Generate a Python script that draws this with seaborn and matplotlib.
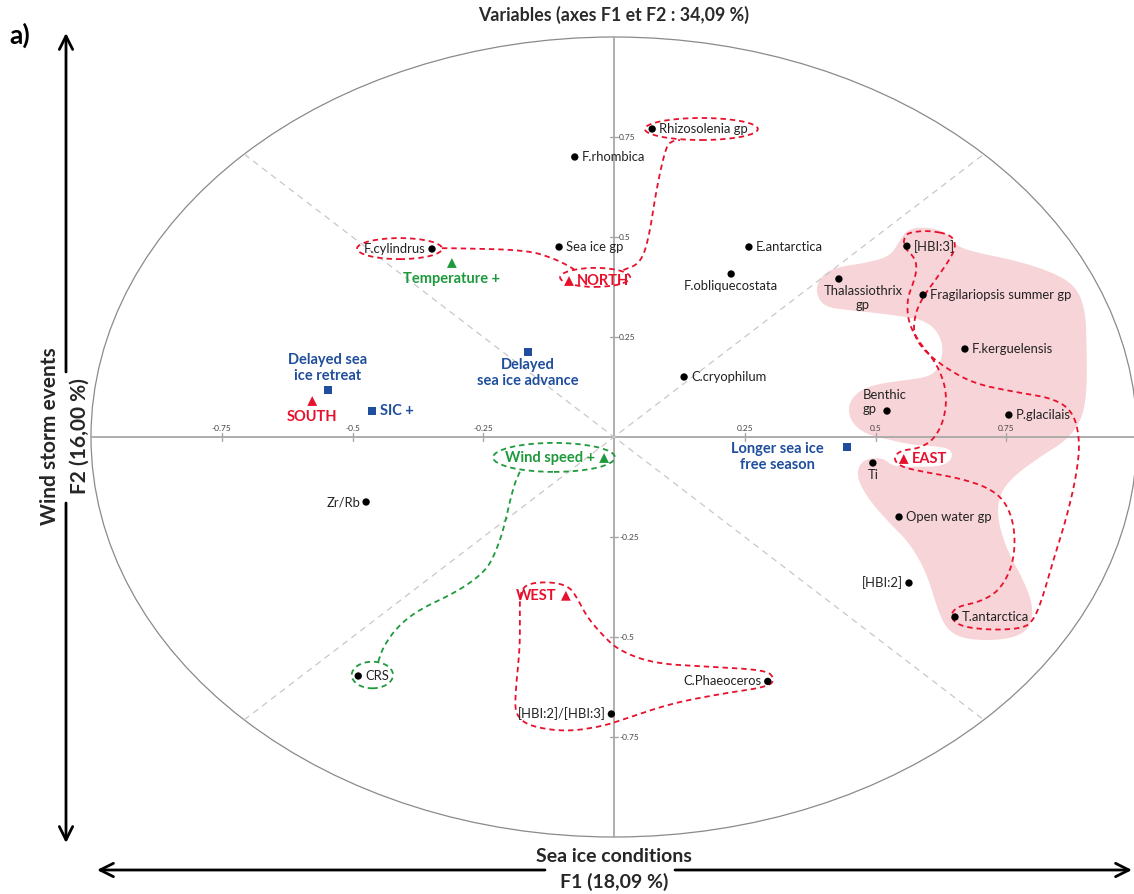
import numpy as np
import pandas as pd
import matplotlib
matplotlib.use("Agg")
import matplotlib.pyplot as plt
from matplotlib.patches import Circle, Ellipse, Polygon
import seaborn as sns

# --- variables (F1, F2 loadings) ---
names = ["Rhizosolenia gp", "F.rhombica", "Sea ice gp", "F.cylindrus", "E.antarctica",
         "F.obliquecostata", "C.cryophilum", "[HBI:3]", "Thalassiothrix\ngp",
         "Fragilariopsis summer gp", "F.kerguelensis", "Benthic\ngp", "P.glacilais",
         "Ti", "Open water gp", "[HBI:2]", "T.antarctica", "Zr/Rb", "CRS",
         "[HBI:2]/[HBI:3]", "C.Phaeoceros"]
f1 = [0.073, -0.075, -0.105, -0.348, 0.258, 0.224, 0.134, 0.560, 0.430, 0.591, 0.671,
      0.522, 0.755, 0.495, 0.545, 0.564, 0.652, -0.474, -0.489, -0.005, 0.294]
f2 = [0.770, 0.700, 0.475, 0.470, 0.475, 0.4075, 0.150, 0.477, 0.395, 0.355, 0.220,
      0.065, 0.055, -0.065, -0.200, -0.365, -0.450, -0.1625, -0.5975, -0.6925, -0.611]
label_pos = ["right", "right", "right", "left", "right", "below", "right", "right", "thal",
             "right", "right", "benthic", "right", "below", "right", "left", "right",
             "left", "right", "left", "left"]

# --- supplementary: regions (red), climate (green), sea ice (blue) ---
sup_names = ["NORTH", "SOUTH", "WEST", "EAST", "Temperature +", "Wind speed +",
             "Delayed sea\nice retreat", "SIC +", "Delayed\nsea ice advance",
             "Longer sea ice\nfree season"]
sup_f1 = [-0.086, -0.577, -0.092, 0.554, -0.310, -0.019, -0.547, -0.463, -0.164, 0.445]
sup_f2 = [0.390, 0.090, -0.397, -0.055, 0.435, -0.0525, 0.1175, 0.065, 0.2125, -0.025]
sup_kind = ["region", "region", "region", "region", "climate", "climate",
            "ice", "ice", "ice", "ice"]
sup_pos = ["right", "below", "left", "right", "below", "left", "above", "right",
           "below", "longer"]

tick_vals = [-0.75, -0.5, -0.25, 0.25, 0.5, 0.75]

# pink group outline (east cluster)
blob_x = [0.384, 0.400, 0.432, 0.477, 0.528, 0.547, 0.560, 0.591, 0.636, 0.655, 0.700,
          0.763, 0.827, 0.878, 0.901, 0.904, 0.904, 0.894, 0.866, 0.815, 0.763, 0.738,
          0.732, 0.751, 0.783, 0.802, 0.795, 0.751, 0.674, 0.636, 0.617, 0.598, 0.566,
          0.521, 0.483, 0.464, 0.470, 0.489, 0.515, 0.534, 0.572, 0.623, 0.646, 0.646,
          0.623, 0.572, 0.528, 0.477, 0.451, 0.448, 0.470, 0.509, 0.560, 0.604, 0.623,
          0.630, 0.617, 0.591, 0.553, 0.509, 0.445, 0.400]
blob_y = [0.3675, 0.409, 0.426, 0.434, 0.451, 0.4925, 0.5175, 0.526, 0.513, 0.476, 0.459,
          0.4425, 0.4175, 0.384, 0.326, 0.2175, 0.109, 0.0425, -0.0075, -0.049, -0.099,
          -0.141, -0.199, -0.2825, -0.3575, -0.424, -0.4825, -0.5075, -0.5075, -0.4825,
          -0.424, -0.341, -0.266, -0.2075, -0.149, -0.099, -0.066, -0.053, -0.053, -0.074,
          -0.074, -0.074, -0.0575, -0.0325, -0.024, -0.020, -0.0075, 0.009, 0.0425, 0.084,
          0.1175, 0.134, 0.1425, 0.151, 0.176, 0.226, 0.2675, 0.2925, 0.301, 0.309,
          0.3175, 0.326]

# red dashed loop, east
east_x = [0.604, 0.646, 0.654, 0.642, 0.617, 0.591, 0.576, 0.572, 0.591, 0.630, 0.687,
          0.764, 0.840, 0.878, 0.891, 0.885, 0.866, 0.840, 0.818, 0.802, 0.783, 0.725,
          0.662, 0.642, 0.655, 0.700, 0.738, 0.764, 0.767, 0.751, 0.719, 0.662, 0.591,
          0.547, 0.534, 0.547, 0.585, 0.614, 0.633, 0.636, 0.617, 0.585, 0.563, 0.560,
          0.572, 0.579, 0.576, 0.553, 0.556, 0.572]
east_y = [0.516, 0.505, 0.476, 0.444, 0.397, 0.351, 0.309, 0.259, 0.218, 0.176, 0.134,
          0.113, 0.097, 0.063, -0.0075, -0.091, -0.199, -0.308, -0.408, -0.458, -0.478,
          -0.483, -0.474, -0.449, -0.424, -0.412, -0.383, -0.316, -0.2325, -0.166,
          -0.1283, -0.1033, -0.087, -0.074, -0.053, -0.034, -0.028, -0.0033, 0.051,
          0.1175, 0.184, 0.234, 0.284, 0.3425, 0.384, 0.4175, 0.447, 0.476, 0.505, 0.513]

# red dashed loop, west
west_x = [-0.180, -0.166, -0.119, -0.086, -0.072, -0.052, -0.025, 0.008, 0.075, 0.176,
          0.290, 0.307, 0.297, 0.209, 0.109, 0.015, -0.025, -0.092, -0.159, -0.186,
          -0.190, -0.180, -0.180]
west_y = [-0.391, -0.366, -0.362, -0.374, -0.399, -0.449, -0.491, -0.533, -0.566, -0.574,
          -0.5825, -0.603, -0.624, -0.641, -0.666, -0.7075, -0.724, -0.7367, -0.724,
          -0.699, -0.6575, -0.5325, -0.449]

# north links
north_a_x = [-0.329, -0.307, -0.167, -0.116, -0.084, -0.071]
north_a_y = [0.472, 0.472, 0.4675, 0.4467, 0.426, 0.4133]
north_b_x = [0.018, 0.050, 0.066, 0.082, 0.098, 0.107, 0.126]
north_b_y = [0.4175, 0.434, 0.4925, 0.626, 0.7175, 0.7383, 0.7425]
# ellipses: centre x, centre y, width, height
red_ell = [(-0.410, 0.471, 0.1625, 0.0525), (-0.036, 0.399, 0.134, 0.0475),
           (0.167, 0.770, 0.216, 0.055)]

# green link wind -> CRS
green_x = [-0.180, -0.1925, -0.2115, -0.225, -0.240, -0.267, -0.307, -0.374, -0.414,
           -0.441, -0.451]
green_y = [-0.087, -0.124, -0.2325, -0.2825, -0.324, -0.3575, -0.391, -0.4325, -0.474,
           -0.524, -0.562]
green_ell = [(-0.1147, -0.051, 0.233, 0.0725), (-0.462, -0.595, 0.079, 0.0665)]

RED = "#e8112d"
GREEN = "#1e9a3c"
BLUE = "#1f4e9c"
PINK = "#f7d4d7"


def chaikin(xs, ys, closed=False, n=3):
    p = np.column_stack([xs, ys]).astype(float)
    for _ in range(n):
        q = p[:-1] * 0.75 + p[1:] * 0.25
        r = p[:-1] * 0.25 + p[1:] * 0.75
        if closed:
            q = np.vstack([q, p[-1] * 0.75 + p[0] * 0.25])
            r = np.vstack([r, p[-1] * 0.25 + p[0] * 0.75])
            p = np.empty((2 * len(q), 2))
            p[0::2], p[1::2] = q, r
        else:
            mid = np.empty((2 * len(q), 2))
            mid[0::2], mid[1::2] = q, r
            p = np.vstack([p[:1], mid, p[-1:]])
    if closed:
        p = np.vstack([p, p[:1]])
    return p[:, 0], p[:, 1]


sns.set_theme(style="white")
plt.rcParams["font.family"] = ["Lato", "DejaVu Sans"]

fig = plt.figure(figsize=(11.34, 8.94), dpi=100)
ax = fig.add_axes([38.7 / 1134, 37 / 894, 1098.3 / 1134, 840 / 894])
ax.set_xlim(-1.1, 1.0)
ax.set_ylim(-1.05, 1.05)
ax.set_axis_off()

# pink hull
bx, by = chaikin(blob_x, blob_y, closed=True, n=4)
ax.add_patch(Polygon(np.column_stack([bx, by]), closed=True, fc=PINK, ec="none", zorder=0))

# correlation circle, axes, diagonals
ax.add_patch(Circle((0, 0), 1.0, fill=False, ec="#8a8a8a", lw=0.9, zorder=1, clip_on=False))
ax.plot([-1, 1], [0, 0], color="#a8a8a8", lw=1.3, zorder=1, clip_on=False)
ax.plot([0, 0], [-1, 1], color="#a8a8a8", lw=1.3, zorder=1)
d = np.sqrt(0.5)
ax.plot([-d, d], [d, -d], color="#c8c8c8", lw=0.9, ls=(0, (5, 4)), zorder=1)
ax.plot([-d, d], [-d, d], color="#c8c8c8", lw=0.9, ls=(0, (5, 4)), zorder=1)
for t in tick_vals:
    ax.plot([t, t], [-0.01, 0.01], color="#a8a8a8", lw=1.0, zorder=1)
    ax.plot([-0.008, 0.008], [t, t], color="#a8a8a8", lw=1.0, zorder=1)
    ax.text(t, 0.012, f"{t:g}", fontsize=6, color="#444444", ha="center", va="bottom")
    ax.text(0.01, t, f"{t:g}", fontsize=6, color="#444444", ha="left", va="center")

# dashed groupings
dash = (0, (3, 2.2))
for xs, ys, closed in [(east_x, east_y, True), (west_x, west_y, True),
                       (north_a_x, north_a_y, False), (north_b_x, north_b_y, False)]:
    sx, sy = chaikin(xs, ys, closed=closed, n=3)
    ax.plot(sx, sy, color=RED, lw=1.3, ls=dash, zorder=2)
for cx, cy, w, h in red_ell:
    ax.add_patch(Ellipse((cx, cy), w, h, fill=False, ec=RED, lw=1.3, ls=dash, zorder=2))
sx, sy = chaikin(green_x, green_y, n=3)
ax.plot(sx, sy, color=GREEN, lw=1.3, ls=dash, zorder=2)
for cx, cy, w, h in green_ell:
    ax.add_patch(Ellipse((cx, cy), w, h, fill=False, ec=GREEN, lw=1.3, ls=dash, zorder=2))

# points
var_df = pd.DataFrame({"name": names, "F1": f1, "F2": f2, "pos": label_pos})
var_df["kind"] = "variable"
sup_df = pd.DataFrame({"name": sup_names, "F1": sup_f1, "F2": sup_f2, "pos": sup_pos,
                       "kind": sup_kind})
df = pd.concat([var_df, sup_df], ignore_index=True)

palette = {"variable": "black", "region": RED, "climate": GREEN, "ice": BLUE}
markers = {"variable": "o", "region": "^", "climate": "^", "ice": "s"}
sizes = {"variable": 28, "region": 50, "climate": 50, "ice": 34}
sns.scatterplot(data=df, x="F1", y="F2", hue="kind", style="kind", size="kind",
                palette=palette, markers=markers, sizes=sizes, linewidth=0,
                legend=False, ax=ax, zorder=3)
ax.set_xlim(-1.1, 1.0)
ax.set_ylim(-1.05, 1.05)

offsets = {"right": ((7, 0), "left", "center"),
           "left": ((-6, 0), "right", "center"),
           "below": ((0, -12), "center", "center"),
           "above": ((0, 22), "center", "center"),
           "thal": ((24, -19), "center", "center"),
           "benthic": ((-24, 9), "left", "center"),
           "longer": ((-69, -10), "center", "center")}
colors = {"variable": "#222222", "region": RED, "climate": GREEN, "ice": BLUE}
for _, row in df.iterrows():
    off, ha, va = offsets[row["pos"]]
    bold = row["kind"] != "variable"
    if row["kind"] != "variable" and row["pos"] == "below":
        off = (0, -16) if "\n" not in row["name"] else (0, -21)
    if row["kind"] != "variable" and row["pos"] == "right":
        off = (8, 0)
    if row["kind"] != "variable" and row["pos"] == "left":
        off = (-9, 0)
    ax.annotate(row["name"], (row["F1"], row["F2"]), xytext=off,
                textcoords="offset pixels", ha=ha, va=va,
                multialignment="left" if row["pos"] == "benthic" else "center",
                fontsize=10.5 if bold else 9.4, fontweight="bold" if bold else "normal",
                color=colors[row["kind"]], linespacing=1.15, zorder=4)

# frame texts and arrows (figure pixels, origin bottom-left)
H = 894
fig.text(614 / 1134, 1 - 15 / H, "Variables (axes F1 et F2 : 34,09 %)", ha="center",
         va="center", fontsize=12.8, fontweight="bold", color="#2a2a2a")
fig.text(9 / 1134, 1 - 35 / H, "a)", ha="left", va="center", fontsize=19,
         fontweight="bold", color="black")

arrow = dict(arrowstyle="->,head_length=0.8,head_width=0.4", lw=2.0, color="black",
             shrinkA=0, shrinkB=0)
ax.annotate("", xy=(66, H - 33), xytext=(66, H - 372), xycoords="figure pixels",
            textcoords="figure pixels", arrowprops=arrow)
ax.annotate("", xy=(66, H - 843), xytext=(66, H - 503), xycoords="figure pixels",
            textcoords="figure pixels", arrowprops=arrow)
ax.annotate("", xy=(97, H - 870), xytext=(545, H - 870), xycoords="figure pixels",
            textcoords="figure pixels", arrowprops=arrow)
ax.annotate("", xy=(1132, H - 870), xytext=(675, H - 870), xycoords="figure pixels",
            textcoords="figure pixels", arrowprops=arrow)

fig.text(50 / 1134, 1 - 436 / H, "Wind storm events", rotation=90, ha="center",
         va="center", fontsize=15, fontweight="bold")
fig.text(80 / 1134, 1 - 436 / H, "F2 (16,00 %)", rotation=90, ha="center",
         va="center", fontsize=15, fontweight="bold")
fig.text(614 / 1134, 1 - 856 / H, "Sea ice conditions", ha="center", va="center",
         fontsize=14, fontweight="bold")
fig.text(614 / 1134, 1 - 882 / H, "F1 (18,09 %)", ha="center", va="center",
         fontsize=14, fontweight="bold")

fig.savefig("out.png", dpi=100)
